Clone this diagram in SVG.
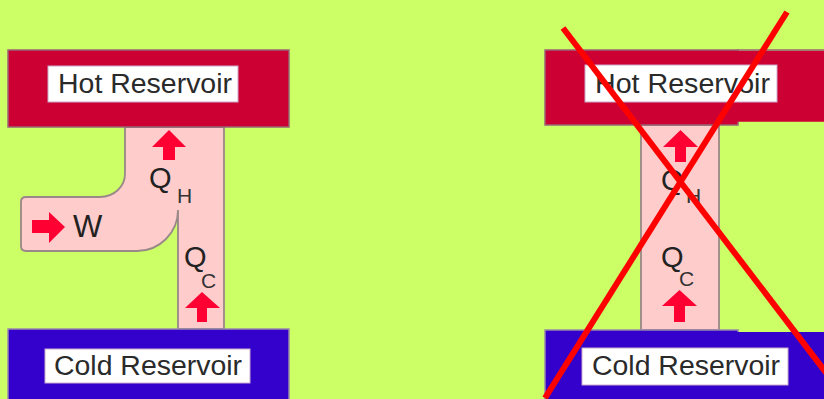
<svg xmlns="http://www.w3.org/2000/svg" width="824" height="399" viewBox="0 0 824 399">
<style>
.hot{fill:#cc0033;stroke:#996677;stroke-width:1.5}
.cold{fill:#3300cc;stroke:#9988aa;stroke-width:1.5}
.lbl{fill:#ffffff;stroke:#ccaacc;stroke-width:1}
.pipe{fill:#ffcccc;stroke:#998888;stroke-width:1.8}
.arr{fill:#ff0033}
.t{font-family:"Liberation Sans",Arial,sans-serif;fill:#2a2a2a}
.big{font-size:27px}
.q{font-size:29px;fill:#222222}
.sub{font-size:21px;fill:#333333}
.x{stroke:#ff0000;stroke-width:6;fill:none}
</style>
<rect x="0" y="0" width="824" height="399" fill="#ccff66"/>

<g id="engine-left">
<path class="pipe" d="M125,127 L125,174 A25,23 0 0 1 100,197 L26,197 Q21,197 21,202 L21,246 Q21,251 26,251 L137,251 A41,41 0 0 0 178,210 L178,329 L224,329 L224,127 Z"/>
</g>
<g id="hot-left">
<rect class="hot" x="8" y="50" width="281" height="77"/>
<rect class="lbl" x="48" y="66" width="190" height="36"/>
<text class="t big" x="58" y="93" textLength="174" lengthAdjust="spacingAndGlyphs">Hot Reservoir</text>
</g>
<g id="cold-left">
<rect class="cold" x="8" y="329" width="281" height="75"/>
<rect class="lbl" x="45" y="349" width="205" height="34"/>
<text class="t big" x="54" y="375" textLength="188" lengthAdjust="spacingAndGlyphs">Cold Reservoir</text>
</g>

<g id="engine-right">
<rect class="pipe" x="641" y="125" width="78" height="205"/>
</g>
<g id="hot-right">
<rect class="hot" x="545" y="50" width="193" height="75"/>
<rect x="737" y="50.75" width="90" height="71" fill="#cc0033"/>
<line x1="737" y1="50" x2="824" y2="50" stroke="#996677" stroke-width="1.5"/>
<rect class="lbl" x="585" y="65" width="192" height="37"/>
<text class="t big" x="595" y="93" textLength="175" lengthAdjust="spacingAndGlyphs">Hot Reservoir</text>
</g>
<g id="cold-right">
<rect class="cold" x="545" y="330" width="193" height="75"/>
<rect x="737" y="332" width="90" height="70" fill="#3300cc"/>
<rect class="lbl" x="582" y="348" width="206" height="37"/>
<text class="t big" x="592" y="375" textLength="188" lengthAdjust="spacingAndGlyphs">Cold Reservoir</text>
</g>

<g id="arrows">
<path class="arr" d="M169,130 L186,147 L175,147 L175,160 L163,160 L163,147 L152,147 Z"/>
<path class="arr" d="M65,227 L49,243 L49,233 L32,233 L32,220 L49,220 L49,212 Z"/>
<path class="arr" d="M202,292 L220,308 L207,308 L207,322 L197,322 L197,308 L185,308 Z"/>
<path class="arr" d="M680.5,130 L698,147 L686,147 L686,162 L675,162 L675,147 L663,147 Z"/>
<path class="arr" d="M679.5,290 L697,306 L685,306 L685,322 L674,322 L674,306 L662,306 Z"/>
</g>

<g id="labels">
<text class="t q" x="149" y="188">Q</text>
<text class="t sub" x="177" y="203">H</text>
<text class="t q" x="73" y="237" style="font-size:31px">W</text>
<text class="t q" x="184" y="267">Q</text>
<text class="t sub" x="201" y="288">C</text>
<text class="t q" x="661" y="190">Q</text>
<text class="t sub" x="686" y="203">H</text>
<text class="t q" x="661" y="267">Q</text>
<text class="t sub" x="679" y="286">C</text>
</g>

<g id="cross">
<line class="x" x1="563" y1="28" x2="840" y2="391"/>
<line class="x" x1="787" y1="12" x2="545" y2="398"/>
</g>
</svg>
